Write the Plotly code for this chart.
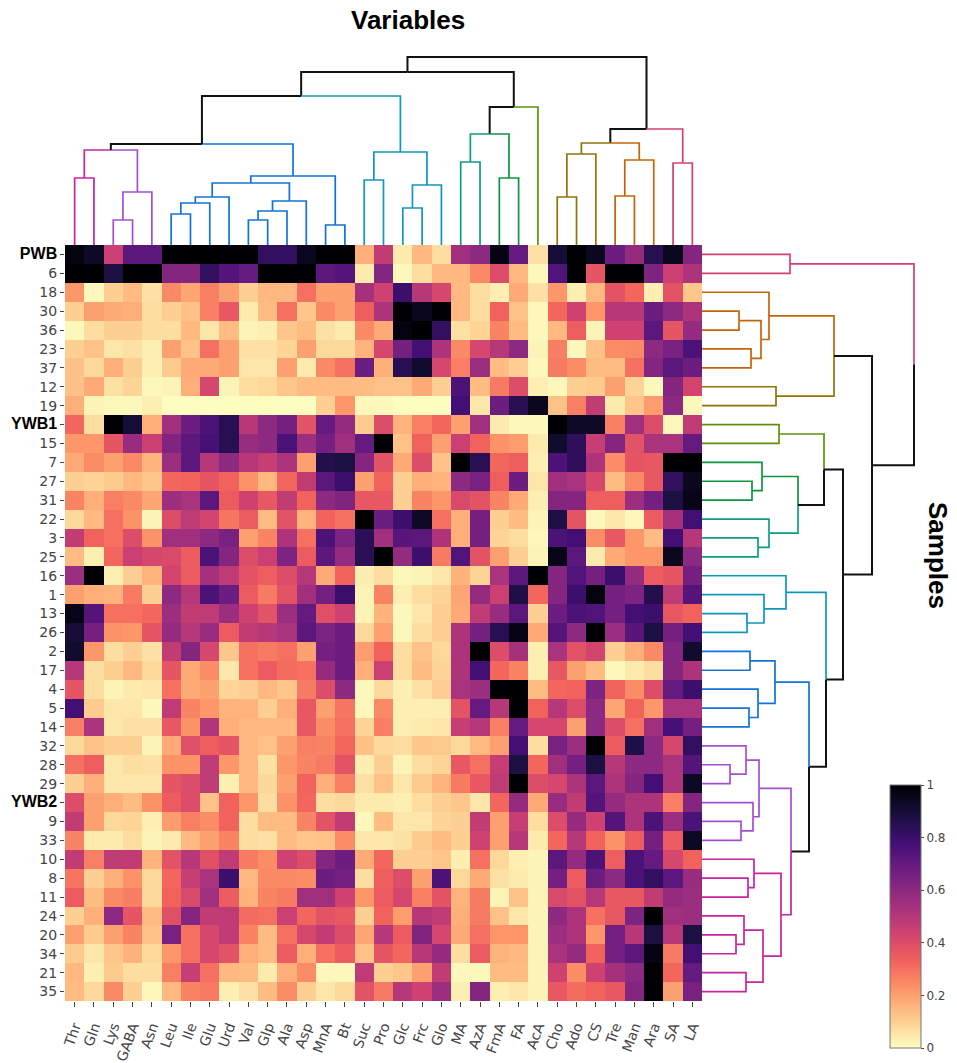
import plotly.graph_objects as go

variables = ['Thr', 'Gln', 'Lys', 'GABA', 'Asn', 'Leu', 'Ile', 'Glu', 'Urd', 'Val', 'Glp',
             'Ala', 'Asp', 'MnA', 'Bt', 'Suc', 'Pro', 'Glc', 'Frc', 'Glo', 'MA', 'AzA', 'FmA',
             'FA', 'AcA', 'Cho', 'Ado', 'CS', 'Tre', 'Man', 'Ara', 'SA', 'LA']
samples = ['PWB', '6', '18', '30', '36', '23', '37', '12', '19', 'YWB1', '15', '7', '27', '31',
           '22', '3', '25', '16', '1', '13', '26', '2', '17', '4', '5', '14', '32', '28', '29',
           'YWB2', '9', '33', '10', '8', '11', '24', '20', '34', '21', '35']
bold_samples = ['PWB', 'YWB1', 'YWB2']

# one row per sample, columns in the order of variables
values = [
    [.98, .93, .45, .72, .72, 1, 1, 1, 1, 1, .82, .82, .95, 1, 1, .17, .47, .04, .15, .07, .55, .6, .97, .7, .06, .9, 1, .95, .68, .58, .85, .95, .62],
    [1, 1, .88, 1, 1, .62, .62, .82, .74, .7, 1, 1, 1, .72, .74, .04, .62, .01, .07, .15, .15, .25, .4, .15, .01, .75, 1, .37, 1, 1, .64, .45, .52],
    [.22, .01, .1, .14, .06, .25, .19, .27, .2, .1, .15, .15, .3, .2, .2, .54, .44, .8, .5, .42, .15, .07, .03, .18, .06, .22, .03, .15, .38, .32, .03, .38, .12],
    [.1, .2, .18, .17, .07, .1, .13, .27, .36, .04, .14, .3, .12, .25, .2, .34, .52, 1, .95, 1, .15, .07, .33, .13, .01, .32, .44, .22, .5, .5, .68, .6, .52],
    [.01, .07, .1, .1, .07, .07, .15, .05, .14, .02, .03, .12, .14, .06, .04, .25, .18, .98, 1, .82, .06, .09, .26, .14, .01, .15, .34, .02, .44, .44, .72, .37, .58],
    [.1, .13, .05, .06, .03, .2, .13, .3, .2, .06, .06, .09, .2, .08, .08, .16, .42, .66, .78, .52, .25, .42, .5, .6, .02, .27, .01, .13, .24, .25, .6, .65, .76],
    [.13, .08, .17, .1, .03, .11, .18, .18, .2, .05, .05, .2, .04, .25, .3, .68, .17, .85, .92, .42, .27, .56, .14, .1, .01, .28, .24, .14, .14, .3, .62, .72, .68],
    [.13, .18, .06, .09, .01, .02, .17, .42, .02, .07, .08, .12, .14, .14, .14, .14, .13, .13, .18, .1, .76, .14, .28, .4, .03, .01, .1, .11, .2, .09, .01, .62, .43],
    [.17, .02, .01, .01, .03, 0, 0, 0, 0, 0, 0, 0, 0, .1, .22, .01, .01, 0, 0, 0, .78, .05, .68, .85, .95, .13, .27, .47, .04, .12, .21, .6, .01],
    [.32, .07, 1, .9, .17, .55, .68, .76, .85, .5, .6, .66, .38, .7, .58, .11, .4, .16, .27, .32, .2, .55, .04, .01, .01, 1, .93, .93, .27, .55, .4, .01, .48],
    [.22, .22, .37, .57, .45, .63, .72, .77, .85, .57, .6, .76, .56, .66, .55, .7, 1, .13, .33, .2, .45, .33, .23, .21, .04, .92, .83, .46, .62, .38, .53, .53, .7],
    [.18, .24, .2, .25, .16, .56, .72, .5, .6, .5, .46, .52, .2, .86, .88, .62, .38, .18, .4, .13, 1, .84, .32, .34, .03, .76, .83, .52, .24, .37, .36, 1, 1],
    [.1, .09, .11, .15, .12, .32, .33, .37, .33, .23, .15, .32, .47, .72, .8, .2, .33, .1, .17, .16, .6, .65, .34, .68, .05, .55, .53, .42, .14, .25, .36, .82, .95],
    [.26, .17, .27, .25, .19, .56, .53, .72, .35, .44, .36, .47, .33, .6, .63, .36, .36, .1, .26, .22, .41, .38, .26, .18, .03, .62, .62, .34, .34, .56, .66, .88, .96],
    [.08, .15, .3, .23, .02, .4, .48, .43, .29, .35, .14, .38, .16, .33, .3, 1, .68, .8, .93, .3, .17, .66, .1, .14, .02, .87, .37, .01, .05, .01, .35, .54, .78],
    [.47, .33, .3, .4, .23, .55, .55, .6, .65, .2, .26, .52, .3, .76, .64, .84, .55, .73, .72, .52, .17, .66, .09, .07, .01, .76, .78, .24, .36, .22, .14, .78, .5],
    [.14, .03, .32, .45, .42, .41, .35, .76, .62, .4, .45, .64, .35, .72, .58, .84, 1, .58, .8, .28, .75, .38, .2, .1, .02, .96, .72, .04, .18, .22, .22, .95, .6],
    [.56, 1, .03, .1, .16, .43, .35, .54, .48, .38, .34, .4, .5, .18, .33, .03, .07, .01, .02, .05, .16, .09, .53, .72, 1, .62, .75, .66, .8, .58, .35, .37, .66],
    [.2, .17, .16, .28, .1, .6, .5, .76, .68, .35, .28, .38, .55, .66, .8, .02, .26, .03, .07, .09, .19, .58, .45, .87, .32, .62, .8, .98, .66, .64, .86, .48, .74],
    [.96, .74, .3, .3, .32, .56, .47, .48, .56, .44, .38, .56, .7, .39, .44, .02, .16, .01, .05, .1, .18, .48, .57, .72, .1, .68, .76, .75, .66, .78, .8, .36, .33],
    [.9, .66, .23, .22, .37, .58, .5, .57, .35, .47, .5, .53, .72, .64, .68, .08, .2, .01, .07, .1, .52, .66, .85, .97, .18, .74, .6, 1, .56, .73, .88, .66, .78],
    [.92, .22, .07, .1, .06, .47, .62, .42, .12, .3, .28, .3, .2, .66, .68, .21, .33, .07, .13, .08, .52, 1, .4, .54, .03, .53, .38, .43, .1, .17, .25, .62, .92],
    [.5, .07, .1, .15, .08, .37, .18, .24, .05, .3, .35, .31, .3, .58, .68, .17, .45, .07, .14, .09, .52, .78, .32, .26, .03, .36, .2, .14, .01, .04, .07, .62, .52],
    [.37, .07, .02, .04, .05, .3, .18, .2, .09, .1, .15, .12, .28, .4, .6, .01, .08, .03, .06, .1, .53, .56, 1, 1, .14, .32, .33, .64, .33, .24, .4, .7, .8],
    [.78, .11, .05, .05, .01, .48, .26, .22, .16, .16, .1, .17, .36, .2, .29, .01, .25, .03, .03, .03, .38, .7, .5, 1, .33, .5, .4, .6, .19, .33, .22, .53, .53],
    [.27, .53, .05, .06, .06, .36, .23, .51, .17, .15, .15, .15, .36, .24, .3, .09, .27, .03, .04, .05, .46, .5, .27, .7, .42, .42, .2, .6, .4, .3, .55, .77, .66],
    [.08, .13, .1, .1, .02, .18, .39, .34, .37, .15, .13, .2, .27, .26, .32, .13, .08, .07, .12, .11, .08, .15, .2, .78, .07, .65, .56, 1, .35, .87, .6, .42, .82],
    [.3, .34, .05, .07, .06, .23, .23, .48, .22, .15, .06, .22, .26, .28, .38, .03, .1, .02, .07, .09, .36, .3, .46, .88, .32, .55, .66, .88, .5, .6, .6, .53, .74],
    [.1, .17, .05, .05, .05, .37, .4, .48, .03, .15, .08, .2, .33, .17, .27, .06, .13, .05, .11, .16, .28, .36, .48, 1, .4, .42, .52, .72, .52, .62, .78, .52, .94],
    [.4, .2, .17, .14, .23, .35, .4, .13, .33, .22, .07, .23, .32, .07, .08, .04, .04, .03, .07, .1, .12, .05, .32, .58, .18, .57, .47, .74, .58, .52, .52, .27, .62],
    [.47, .2, .08, .09, .03, .21, .27, .24, .33, .07, .14, .14, .26, .38, .47, .01, .14, .05, .05, .09, .1, .47, .2, .46, .07, .4, .58, .44, .74, .52, .76, .56, .76],
    [.26, .04, .04, .07, .02, .04, .15, .2, .26, .07, .06, .14, .12, .13, .24, .05, .05, .06, .11, .14, .1, .44, .2, .5, .04, .32, .5, .33, .23, .34, .66, .35, .94],
    [.47, .27, .48, .47, .16, .38, .5, .39, .48, .28, .24, .44, .4, .62, .68, .18, .32, .1, .1, .12, .03, .3, .08, .03, .02, .72, .58, .76, .34, .76, .7, .42, .33],
    [.29, .1, .17, .23, .08, .32, .46, .53, .8, .15, .25, .25, .24, .68, .66, .07, .34, .4, .2, .76, .08, .18, .06, .04, .02, .66, .35, .68, .6, .76, .82, .72, .57],
    [.35, .14, .25, .27, .08, .33, .41, .55, .35, .16, .26, .28, .55, .55, .44, .22, .35, .42, .27, .38, .16, .28, .02, .13, .02, .41, .38, .5, .36, .36, .47, .58, .56],
    [.1, .17, .6, .37, .14, .39, .62, .47, .48, .31, .3, .45, .32, .38, .36, .1, .33, .21, .5, .48, .17, .28, .13, .05, .02, .6, .52, .3, .36, .64, 1, .55, .56],
    [.2, .11, .2, .26, .13, .65, .3, .42, .48, .26, .14, .3, .42, .47, .4, .19, .5, .35, .63, .42, .18, .3, .22, .22, .02, .56, .52, .22, .66, .5, .88, .5, .88],
    [.11, .05, .12, .16, .08, .22, .3, .42, .38, .17, .14, .35, .17, .3, .35, .13, .37, .32, .5, .58, .07, .35, .16, .15, .02, .53, .58, .33, .66, .72, .97, .28, .78],
    [.15, .03, .11, .07, .07, .27, .46, .3, .15, .14, .04, .17, .24, .01, .01, .48, .1, .12, .2, .47, .01, .01, .14, .14, .02, .44, .24, .44, .54, .6, 1, .32, .7],
    [.14, .08, .25, .1, .01, .15, .26, .28, .03, .06, .14, .24, .1, .05, .08, .38, .28, .5, .44, .56, .03, .62, .03, .05, .02, .36, .31, .33, .36, .62, 1, .2, .65],
]

BLACK = '#111111'
PINK = '#C9249F'
PURPLE = '#A24FD0'
BLUE = '#1273D6'
CYAN = '#0F96BC'
TEAL = '#0E9C88'
GREEN = '#0E9440'
OLIVE = '#5F9010'
BROWN = '#8F7408'
ORANGE = '#C46408'
ROSE = '#D63F72'

# dendrograms: (left, right, height, colour), a leaf is a name or (name, colour)
variable_tree = (
    (
        (
            (('Thr', 'Gln', 67, PINK),
             (('Lys', 'GABA', 25, PURPLE), 'Asn', 53, PURPLE), 95, BLACK),
            ((((('Leu', 'Ile', 31, BLUE), 'Glu', 42, BLUE), 'Urd', 48, BLUE),
              ((('Val', 'Glp', 25, BLUE), 'Ala', 34, BLUE), 'Asp', 44, BLUE), 62, BLUE),
             ('MnA', 'Bt', 20, BLUE), 69, BLUE),
            101, BLACK),
        (('Suc', 'Pro', 65, CYAN),
         (('Glc', 'Frc', 37, CYAN), 'Glo', 60, CYAN), 93, CYAN),
        149, BLACK),
    (
        (('MA', 'AzA', 83, TEAL), ('FmA', 'FA', 67, GREEN), 111, BLACK),
        ('AcA', OLIVE), 138, BLACK),
    173, BLACK)
variable_tree = (
    variable_tree,
    ((
        (('Cho', 'Ado', 48, BROWN), 'CS', 91, BROWN),
        (('Tre', 'Man', 49, ORANGE), 'Ara', 85, ORANGE),
        102, BLACK),
     ('SA', 'LA', 82, ROSE), 116, BLACK),
    188, BLACK)

sample_tree = (
    ('PWB', '6', 88, ROSE),
    (
        (
            ('18', (('30', '36', 37, ORANGE), ('23', '37', 49, ORANGE), 59, ORANGE), 67, ORANGE),
            ('12', '19', 74, BROWN),
            132, BLACK),
        (
            (('YWB1', '15', 77, OLIVE),
             (('7', ('27', '31', 50, GREEN), 60, GREEN),
              ('22', ('3', '25', 56, TEAL), 67, TEAL), 96, BLACK),
             122, BLACK),
            (('16', ('1', ('13', '26', 45, CYAN), 62, CYAN), 84, CYAN),
             ((('2', '17', 48, BLUE), ('4', ('5', '14', 47, BLUE), 56, BLUE), 73, BLUE),
              ((('32', ('28', '29', 28, PURPLE), 44, PURPLE),
                ('YWB2', ('9', '33', 39, PURPLE), 51, PURPLE), 57, PURPLE),
               (('10', ('8', '11', 46, PINK), 52, PINK),
                (('24', ('20', '34', 34, PINK), 42, PINK), ('21', '35', 44, PINK), 61, PINK),
                79, PINK),
               89, BLACK),
              107, BLACK),
             124, BLACK),
            141, BLACK),
        170, BLACK),
    212, BLACK)


def collect_lines(node, order, lines):
    # walks the tree, returns (leaf position, height, colour) of the node
    if isinstance(node, str):
        return order.index(node), 0, None
    if len(node) == 2:
        return order.index(node[0]), 0, node[1]
    pos_a, h_a, col_a = collect_lines(node[0], order, lines)
    pos_b, h_b, col_b = collect_lines(node[1], order, lines)
    height, colour = node[2], node[3]
    mid = (pos_a + pos_b) / 2
    lines.setdefault(col_a or colour, []).append(([pos_a, pos_a, mid], [h_a, height, height]))
    lines.setdefault(col_b or colour, []).append(([pos_b, pos_b, mid], [h_b, height, height]))
    return mid, height, colour


def line_traces(tree, order, xaxis, yaxis, flip):
    lines = {}
    collect_lines(tree, order, lines)
    traces = []
    for colour, parts in lines.items():
        pos, hgt = [], []
        for p, h in parts:
            pos += p + [None]
            hgt += h + [None]
        traces.append(go.Scatter(
            x=hgt if flip else pos,
            y=pos if flip else hgt,
            xaxis=xaxis, yaxis=yaxis,
            mode='lines',
            hoverinfo='skip',
            showlegend=False,
            line=dict(color=colour, width=2 if colour == BLACK else 1.7),
        ))
    return traces


# the page keeps the browser's 8px body margin
FIG_W, FIG_H = 941, 1055


def px_x(p):
    return (p - 8) / FIG_W


def px_y(p):
    return 1 - (p - 8) / FIG_H


def sample_label(name):
    if name in bold_samples:
        return f'<span style="color:#000000;font-family:Liberation Sans;font-size:16px"><b>{name}</b></span>'
    return name


fig = go.Figure()
fig.add_trace(go.Heatmap(
    z=values,
    x=variables,
    y=samples,
    colorscale='Magma',
    reversescale=True,
    zmin=0,
    zmax=1,
    colorbar=dict(
        x=px_x(890), xanchor='left',
        y=px_y(1048), yanchor='bottom',
        len=263 / FIG_H, lenmode='fraction',
        thickness=31, thicknessmode='pixels',
        tickvals=[0, 0.2, 0.4, 0.6, 0.8, 1],
        ticks='outside', ticklen=3, tickcolor='#444444',
        outlinewidth=1, outlinecolor='#777777',
        xpad=0, ypad=0,
        ticklabeloverflow='allow',
        tickfont=dict(family='DejaVu Sans', size=12, color='#444444'),
    ),
))
for trace in line_traces(variable_tree, variables, 'x2', 'y2', False):
    fig.add_trace(trace)
for trace in line_traces(sample_tree, samples, 'x3', 'y3', True):
    fig.add_trace(trace)

fig.update_layout(
    width=FIG_W,
    height=FIG_H,
    margin=dict(l=0, r=0, t=0, b=0, autoexpand=False),
    paper_bgcolor='white',
    plot_bgcolor='white',
    font=dict(family='DejaVu Sans', color='#444444'),
    xaxis=dict(
        domain=[px_x(65), px_x(702)], automargin=False,
        tickangle=-70, ticks='outside', ticklen=5, tickcolor='#444444',
        showgrid=False, zeroline=False, tickfont=dict(size=14),
        ticklabelstandoff=6, ticklabeloverflow='allow',
    ),
    yaxis=dict(
        domain=[px_y(1001), px_y(245)], automargin=False,
        autorange='reversed', ticks='outside', ticklen=4, tickcolor='#444444',
        showgrid=False, zeroline=False, tickfont=dict(size=14),
        tickmode='array', tickvals=samples,
        ticktext=[sample_label(s) for s in samples],
    ),
    xaxis2=dict(domain=[px_x(65), px_x(702)], range=[-0.5, 32.5], visible=False),
    yaxis2=dict(domain=[px_y(245), px_y(55)], range=[0, 190], visible=False),
    xaxis3=dict(domain=[px_x(702), px_x(916)], range=[0, 214], visible=False),
    yaxis3=dict(domain=[px_y(1001), px_y(245)], range=[39.5, -0.5], visible=False),
    annotations=[
        dict(text='<b>Variables</b>', x=px_x(408), y=px_y(20), xref='paper', yref='paper',
             xanchor='center', yanchor='middle', showarrow=False,
             font=dict(family='Liberation Sans', size=26, color='black')),
        dict(text='<b>Samples</b>', x=px_x(938), y=px_y(555), xref='paper', yref='paper',
             xanchor='center', yanchor='middle', showarrow=False, textangle=90,
             font=dict(family='Liberation Sans', size=26, color='black')),
    ],
)

fig.write_html("out.html")
